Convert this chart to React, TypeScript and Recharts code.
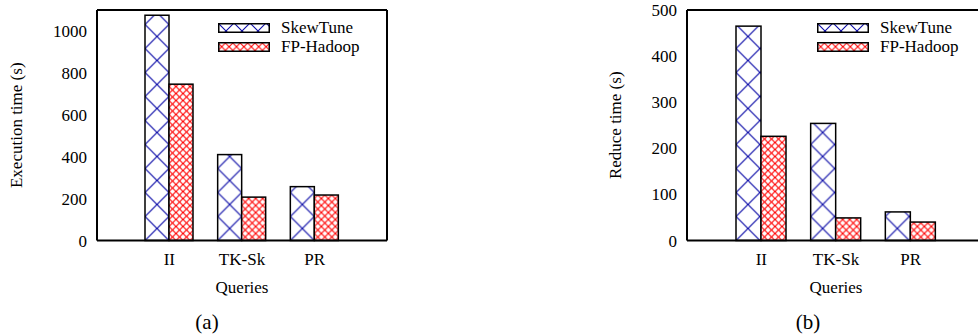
import { Bar, BarChart, Legend, XAxis, YAxis } from "recharts"

const queries = ["II", "TK-Sk", "PR"]
const seriesNames = ["SkewTune", "FP-Hadoop"]
const skewTuneExec = [1075, 410, 257]
const fpHadoopExec = [746, 207, 217]
const skewTuneReduce = [465, 254, 62]
const fpHadoopReduce = [226, 49, 40]
const execTicks = [0, 200, 400, 600, 800, 1000]
const reduceTicks = [0, 100, 200, 300, 400, 500]

const execData = queries.map((name, i) => ({ name, skewTune: skewTuneExec[i], fpHadoop: fpHadoopExec[i] }))
const reduceData = queries.map((name, i) => ({ name, skewTune: skewTuneReduce[i], fpHadoop: fpHadoopReduce[i] }))

const serif = "Liberation Serif"
const font = { fontFamily: serif, fontSize: 17, fill: "#000" }
const frame = { stroke: "#000", strokeWidth: 2 }
const tickStroke = { stroke: "#000", strokeWidth: 1.5 }
const blue = "#0c0ca8"
const red = "#ff0000"

// hatch tiles anchored on each bar's bottom-left corner
const hatch = (id: string, x: number, y: number, size: number, color: string, w: number) => (
    <pattern id={id} x={x} y={y} width={size} height={size} patternUnits="userSpaceOnUse">
        <rect width={size} height={size} fill="#fff" />
        <path d={`M0,0 L${size},${size} M${size},0 L0,${size}`} stroke={color} strokeWidth={w} />
    </pattern>
)

const hatchedBar = (key: string, size: number, color: string, w: number) => (p: any) => {
    const id = `${key}-${p.index}`
    return (
        <g>
            <defs>{hatch(id, p.x, p.y + p.height, size, color, w)}</defs>
            <rect x={p.x} y={p.y} width={p.width} height={p.height} fill={`url(#${id})`} stroke="#000" strokeWidth={1.5} />
        </g>
    )
}

const xTick = (p: any) => (
    <text x={p.x} y={p.y} dy={24} textAnchor="middle" style={font}>{p.payload.value}</text>
)

const yTick = (p: any) => (
    <text x={p.x} y={p.y} dy={6} textAnchor="end" style={font}>{p.payload.value}</text>
)

const yTitle = (text: string, offset: number) => (p: any) => {
    const cx = p.viewBox.x + offset
    const cy = p.viewBox.y + p.viewBox.height / 2
    return (
        <text x={cx} y={cy} dy={6} transform={`rotate(-90 ${cx} ${cy})`} textAnchor="middle" style={font}>{text}</text>
    )
}

const xTitle = (p: any) => (
    <text x={p.viewBox.x + p.viewBox.width / 2} y={p.viewBox.y + p.viewBox.height - 8} textAnchor="middle" style={font}>Queries</text>
)

const renderLegend = (legendKey: string) => (props: any) => {
    const items = [...props.payload].sort((a: any, b: any) => seriesNames.indexOf(a.value) - seriesNames.indexOf(b.value))
    return (
        <div style={{ display: "flex", flexDirection: "column" }}>
            {items.map((entry: any, i: number) => (
                <div key={entry.value} style={{ display: "flex", alignItems: "center", height: 19 }}>
                    <svg width={52} height={10} style={{ display: "block" }}>
                        <defs>
                            {i === 0
                                ? hatch(`lg-${legendKey}-${i}`, 0, 0, 16, blue, 1.1)
                                : hatch(`lg-${legendKey}-${i}`, 0, 1, 7.4, red, 1.1)}
                        </defs>
                        <rect x={0.75} y={0.75} width={50.5} height={8.5} fill={`url(#lg-${legendKey}-${i})`} stroke="#000" strokeWidth={1.5} />
                    </svg>
                    <span style={{ marginLeft: 11, fontFamily: serif, fontSize: 17, color: "#000", lineHeight: "19px" }}>
                        {entry.value}
                    </span>
                </div>
            ))}
        </div>
    )
}

type PanelProps = {
    id: string
    left: number
    width: number
    yWidth: number
    right: number
    data: any[]
    yMax: number
    ticks: number[]
    yLabel: string
    labelOffset: number
    barSize: number
    pad: number
    legendLeft: number
}

const Panel = ({ id, left, width, yWidth, right, data, yMax, ticks, yLabel, labelOffset, barSize, pad, legendLeft }: PanelProps) => (
    <div style={{ position: "absolute", left, top: 0, fontFamily: serif }}>
        <BarChart width={width} height={334} data={data} margin={{ top: 10, right, bottom: 33.5, left: 0 }} barGap={0} barSize={barSize}>
            <XAxis
                dataKey="name"
                height={60}
                tickLine={false}
                tickSize={0}
                tickMargin={0}
                axisLine={frame}
                tick={xTick}
                padding={{ left: pad, right: pad }}
                label={{ position: "insideBottom", content: xTitle }}
            />
            <XAxis
                xAxisId="top"
                orientation="top"
                mirror
                dataKey="name"
                tick={false}
                tickSize={8}
                tickLine={tickStroke}
                axisLine={frame}
                padding={{ left: pad, right: pad }}
            />
            <YAxis
                width={yWidth}
                domain={[0, yMax]}
                ticks={ticks}
                tickLine={false}
                tickSize={0}
                tickMargin={10}
                axisLine={frame}
                tick={yTick}
                label={{ position: "insideLeft", content: yTitle(yLabel, labelOffset) }}
            />
            <YAxis yAxisId="in" mirror domain={[0, yMax]} ticks={ticks} tick={false} tickSize={8} tickLine={tickStroke} axisLine={false} />
            <YAxis yAxisId="right" orientation="right" mirror domain={[0, yMax]} ticks={ticks} tick={false} tickSize={8} tickLine={tickStroke} axisLine={frame} />
            <Legend
                layout="vertical"
                align="center"
                verticalAlign="middle"
                content={renderLegend(id)}
                wrapperStyle={{ top: 18, left: legendLeft, width: "auto" }}
            />
            <Bar dataKey="skewTune" name="SkewTune" fill={blue} shape={hatchedBar(`sk-${id}`, 24, blue, 1.2)} isAnimationActive={false} />
            <Bar dataKey="fpHadoop" name="FP-Hadoop" fill={red} shape={hatchedBar(`fp-${id}`, 7, red, 1.1)} isAnimationActive={false} />
        </BarChart>
    </div>
)

const Caption = ({ text, x }: { text: string; x: number }) => (
    <div style={{ position: "absolute", left: x - 30, top: 309, width: 60, textAlign: "center", fontFamily: serif, fontSize: 21, lineHeight: "26px", color: "#000" }}>
        {text}
    </div>
)

const App = () => (
    <div style={{ position: "absolute", left: 0, top: 0, width: 978, height: 334, overflow: "hidden", background: "#fff" }}>
        <Panel id="a" left={0} width={400} yWidth={97} right={13} data={execData} yMax={1100} ticks={execTicks}
            yLabel="Execution time (s)" labelOffset={16} barSize={24} pad={36} legendLeft={218} />
        <Panel id="b" left={560} width={440} yWidth={127} right={15} data={reduceData} yMax={500} ticks={reduceTicks}
            yLabel="Reduce time (s)" labelOffset={55} barSize={25} pad={37} legendLeft={257} />
        <Caption text="(a)" x={207} />
        <Caption text="(b)" x={808} />
    </div>
)

export default App
